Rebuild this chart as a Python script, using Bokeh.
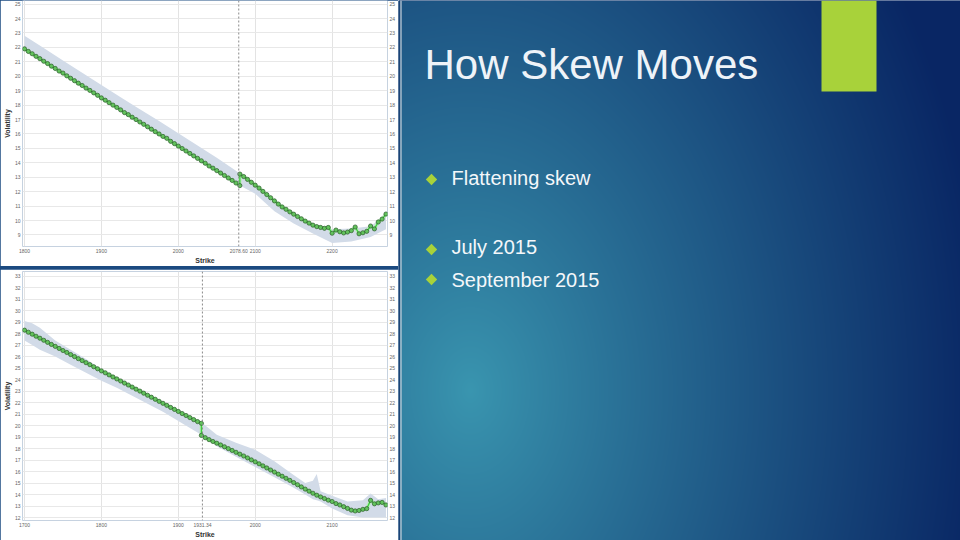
import numpy as np
from bokeh.plotting import figure
from bokeh.layouts import row, column
from bokeh.models import Range1d, LinearAxis, FixedTicker, Span
from bokeh.embed import file_html
from bokeh.resources import INLINE
from bokeh.core.properties import value

# ---------------- data ----------------
title_text = "How Skew Moves"
bullets = ["Flattening skew", "July 2015", "September 2015"]

# July 2015 skew
jul_put_strikes = list(range(1800, 2085, 5))
jul_put_vol = [21.90, 21.72, 21.56, 21.38, 21.22, 21.04, 20.88, 20.70, 20.54, 20.36,
               20.22, 20.03, 19.86, 19.69, 19.52, 19.36, 19.18, 19.02, 18.85, 18.68,
               18.50, 18.34, 18.17, 18.00, 17.84, 17.67, 17.48, 17.34, 17.16, 17.00,
               16.83, 16.67, 16.50, 16.33, 16.16, 16.00, 15.83, 15.70, 15.49, 15.33,
               15.16, 14.99, 14.82, 14.65, 14.48, 14.31, 14.14, 13.97, 13.78, 13.63,
               13.46, 13.29, 13.12, 12.95, 12.78, 12.60, 12.42]
jul_call_strikes = list(range(2080, 2275, 5))
jul_call_vol = [13.22, 13.05, 12.85, 12.65, 12.45, 12.25, 12.02, 11.80, 11.58, 11.36,
                11.14, 10.94, 10.78, 10.60, 10.44, 10.28, 10.12, 9.96, 9.82, 9.68,
                9.58, 9.52, 9.46, 9.52, 9.12, 9.34, 9.22, 9.14, 9.20, 9.30,
                9.55, 9.08, 9.15, 9.25, 9.62, 9.42, 9.90, 10.10, 10.45]
jul_band_strikes = [1800, 1825, 1850, 1875, 1900, 1925, 1950, 1975, 2000, 2025, 2050,
                    2075, 2080, 2100, 2125, 2150, 2175, 2200, 2225, 2250, 2270]
jul_band_lo = [21.90, 21.04, 20.20, 19.36, 18.50, 17.67, 16.83, 16.00, 15.16, 14.31, 13.46,
               12.60, 12.42, 11.85, 10.65, 9.80, 9.10, 8.45, 8.55, 8.85, 9.40]
jul_band_hi = [22.80, 21.95, 21.10, 20.25, 19.40, 18.55, 17.72, 16.90, 16.05, 15.20, 14.35,
               13.45, 13.25, 12.45, 11.36, 10.44, 9.68, 9.40, 9.45, 9.60, 10.45]
jul_spot = 2078.60
jul_xticks = [1800, 1900, 2000, 2100, 2200]
jul_yticks = list(range(9, 26))

# September 2015 skew
sep_put_strikes = list(range(1700, 1935, 5))
sep_put_vol = [28.30, 28.12, 27.95, 27.77, 27.60, 27.42, 27.24, 27.06, 26.89, 26.71,
               26.53, 26.36, 26.18, 26.00, 25.82, 25.65, 25.47, 25.30, 25.12, 24.94,
               24.76, 24.59, 24.41, 24.23, 24.06, 23.88, 23.70, 23.53, 23.35, 23.17,
               23.00, 22.82, 22.64, 22.47, 22.29, 22.11, 21.94, 21.76, 21.58, 21.41,
               21.23, 21.05, 20.88, 20.70, 20.52, 20.35, 20.20]
sep_call_strikes = list(range(1930, 2175, 5))
sep_call_vol = [19.15, 18.95, 18.78, 18.62, 18.47, 18.32, 18.16, 18.00, 17.84, 17.68,
                17.52, 17.36, 17.19, 17.02, 16.85, 16.68, 16.50, 16.32, 16.14, 15.96,
                15.78, 15.60, 15.42, 15.24, 15.05, 14.86, 14.67, 14.48, 14.30, 14.12,
                13.95, 13.80, 13.66, 13.52, 13.40, 13.22, 13.10, 12.95, 12.80, 12.65,
                12.58, 12.62, 12.72, 12.78, 13.50, 13.20, 13.28, 13.32, 13.10]
sep_band_strikes = [1700, 1710, 1720, 1740, 1760, 1780, 1800, 1820, 1840, 1860, 1880,
                    1900, 1920, 1930, 1950, 1975, 2000, 2025, 2050, 2065, 2075, 2080,
                    2085, 2100, 2120, 2140, 2150, 2160, 2170]
sep_band_lo = [27.4, 27.0, 26.6, 26.0, 25.3, 24.6, 23.9, 23.3, 22.6, 21.9, 21.2,
               20.4, 19.6, 19.2, 18.2, 17.3, 16.4, 15.5, 14.6, 14.0, 13.6, 13.5,
               13.4, 12.8, 12.2, 12.0, 12.0, 12.0, 12.0]
sep_band_hi = [29.1, 28.9, 28.5, 27.4, 26.6, 25.8, 24.9, 24.2, 23.5, 22.8, 22.1,
               21.4, 20.6, 20.3, 19.2, 18.5, 17.9, 16.9, 15.7, 15.0, 15.2, 15.8,
               14.3, 13.9, 13.4, 13.5, 14.1, 13.6, 13.7]
sep_spot = 1931.34
sep_xticks = [1700, 1800, 1900, 2000, 2100]
sep_yticks = list(range(12, 34))

FONT = "Liberation Sans"
LEFT_W = 398


def make_chart(put_k, put_v, call_k, call_v, band_k, band_lo, band_hi, spot,
               xticks, yticks, xr, yr, w, h, top_border):
    p = figure(width=w, height=h, x_range=Range1d(*xr), y_range=Range1d(*yr),
               output_backend="svg", toolbar_location=None,
               min_border_left=0, min_border_right=0, min_border_top=top_border,
               min_border_bottom=0)
    p.outline_line_color = None
    p.background_fill_color = "white"
    p.border_fill_color = "white"

    xt = sorted(xticks + [spot])
    p.xaxis.ticker = FixedTicker(ticks=xt)
    p.xaxis.major_label_overrides = {spot: "%.2f" % spot}
    p.yaxis.ticker = FixedTicker(ticks=yticks)
    right = LinearAxis(ticker=FixedTicker(ticks=yticks))
    p.add_layout(right, "right")
    for ax in p.axis:
        ax.axis_line_color = None
        ax.major_tick_line_color = None
        ax.minor_tick_line_color = None
        ax.major_tick_out = 0
        ax.major_tick_in = 0
        ax.minor_tick_out = 0
        ax.major_label_text_font = FONT
        ax.major_label_text_font_size = "5px"
        ax.major_label_text_color = "#666666"
        ax.major_label_standoff = 2
        ax.axis_label_text_font = FONT
        ax.axis_label_text_font_size = "7px"
        ax.axis_label_text_font_style = "bold"
        ax.axis_label_text_color = "#333333"
        ax.axis_label_standoff = 1
    p.xaxis.axis_label = "Strike"
    p.yaxis[0].axis_label = "Volatility"
    p.xgrid.ticker = FixedTicker(ticks=xticks)
    p.xgrid.grid_line_color = "#e3e3e3"
    p.ygrid.grid_line_color = "#e8e8e8"

    p.varea(x=band_k, y1=band_lo, y2=band_hi, fill_color="#d2dbe8", fill_alpha=1.0)

    xs = put_k + call_k
    ys = put_v + call_v
    p.line(xs, ys, line_color="#b8ecb8", line_width=3.5, line_alpha=0.9)
    p.line(xs, ys, line_color="#3ccf3c", line_width=1.3)
    p.scatter(xs, ys, size=4.2, fill_color="#62c35c", line_color="#2c5a2c", line_width=0.7)

    p.add_layout(Span(location=spot, dimension="height", line_color="#8a8a8a",
                      line_dash="2 2", line_width=1))
    return p


p_top = make_chart(jul_put_strikes, jul_put_vol, jul_call_strikes, jul_call_vol,
                   jul_band_strikes, jul_band_lo, jul_band_hi, jul_spot,
                   jul_xticks, jul_yticks, (1797.4, 2272), (8.2, 25.25), LEFT_W, 266, 0)
p_bot = make_chart(sep_put_strikes, sep_put_vol, sep_call_strikes, sep_call_vol,
                   sep_band_strikes, sep_band_lo, sep_band_hi, sep_spot,
                   sep_xticks, sep_yticks, (1697.4, 2172), (11.75, 33.4), LEFT_W, 271, 2)

# ---------------- slide side (data coords = page pixels, y flipped) ----------------
X0, X1 = LEFT_W, 960
q = figure(width=X1 - X0, height=540, x_range=Range1d(X0, X1), y_range=Range1d(0, 540),
           output_backend="svg", toolbar_location=None, min_border=0)
q.axis.visible = False
q.grid.visible = False
q.outline_line_color = None
q.border_fill_color = "#0b2a66"
q.background_fill_color = "#0b2a66"

W, H = X1 - X0, 540
gx = np.arange(W) + X0 + 0.5
gy = 540 - (np.arange(H) + 0.5)          # page y of each image row (row 0 at bottom)
GX, GY = np.meshgrid(gx, gy)
dist = np.sqrt((GX - 470) ** 2 + ((GY - 390) / 1.4) ** 2)
tt = np.clip(dist / 520, 0, 1) ** 0.9
inner = np.array([58, 150, 176], dtype=float)
outer = np.array([9, 38, 100], dtype=float)
rgb = inner[None, None, :] * (1 - tt[..., None]) + outer[None, None, :] * tt[..., None]
img = np.empty((H, W), dtype=np.uint32)
view = img.view(dtype=np.uint8).reshape((H, W, 4))
view[..., 0:3] = rgb.astype(np.uint8)
view[..., 3] = 255
q.image_rgba(image=[img], x=X0, y=0, dw=W, dh=H)


def Y(page_y):
    return 540 - page_y


q.segment(x0=[398.8], y0=[Y(0)], x1=[398.8], y1=[Y(540)], line_color="#1b4477", line_width=1.6)
q.segment(x0=[400.5], y0=[Y(0)], x1=[400.5], y1=[Y(540)], line_color="#c9d2dc", line_width=1.2)

q.quad(left=[821], right=[876], bottom=[Y(91)], top=[Y(0)], fill_color="#a8d23a",
       line_color=None)

q.text(x=[424], y=[Y(64)], text=[title_text], text_font=value(FONT),
       text_font_size="42px", text_color="#eef3f8", text_baseline="alphabetic")

bullet_marker_y = [Y(179), Y(249), Y(279)]
bullet_text_y = [Y(177), Y(246), Y(279)]
q.scatter(x=[431] * 3, y=bullet_marker_y, marker="square", angle=np.pi / 4, size=8,
          fill_color="#a8d23a", line_color=None)
q.text(x=[451] * 3, y=bullet_text_y, text=bullets, text_font=value(FONT),
       text_font_size="20px", text_color="#f4f7fa", text_baseline="alphabetic")

left = column(p_top, p_bot, spacing=3, styles={"background-color": "#1b4a80"})
layout = row(left, q)
open("out.html", "w").write(file_html(layout, INLINE))
